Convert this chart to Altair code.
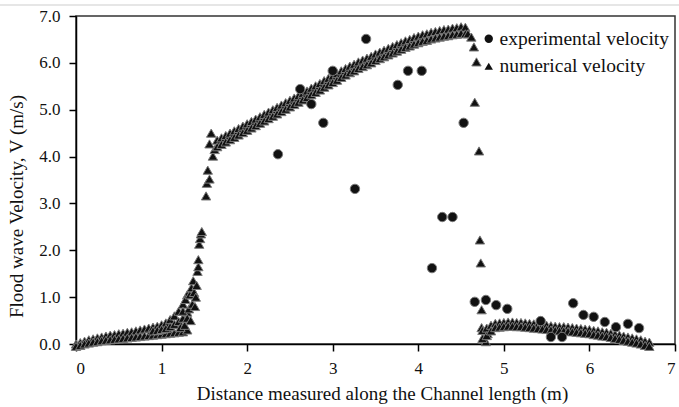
import altair as alt
import pandas as pd

# ---------------- data ----------------
SERIES = ["experimental velocity", "numerical velocity"]

# experimental velocity (circles)
exp_x = [2.36, 2.62, 2.75, 2.89, 3.00, 3.26, 3.39, 3.76, 3.88, 4.04, 4.16, 4.28,
         4.40, 4.53, 4.66, 4.79, 4.91, 5.04, 5.43, 5.55, 5.68, 5.81, 5.93, 6.05,
         6.18, 6.31, 6.45, 6.58]
exp_y = [4.05, 5.44, 5.12, 4.72, 5.83, 3.31, 6.51, 5.53, 5.83, 5.83, 1.62, 2.71,
         2.71, 4.72, 0.90, 0.94, 0.83, 0.75, 0.49, 0.15, 0.15, 0.87, 0.62, 0.58,
         0.47, 0.36, 0.43, 0.34]

# numerical velocity (triangles) - slow rise near the gate
rise_x = [0.00, 0.05, 0.10, 0.15, 0.20, 0.25, 0.30, 0.35, 0.40, 0.45, 0.50, 0.55,
          0.60, 0.65, 0.70, 0.75, 0.80, 0.85, 0.90, 0.95, 1.00, 1.05, 1.10, 1.15,
          1.20, 1.25, 1.30]
rise_upper = [0.00, 0.03, 0.06, 0.09, 0.11, 0.13, 0.15, 0.17, 0.19, 0.20, 0.22, 0.23,
              0.25, 0.26, 0.28, 0.30, 0.32, 0.34, 0.36, 0.38, 0.41, 0.45, 0.52, 0.60,
              0.70, 0.85, 1.05]
rise_lower = [-0.05, -0.03, 0.00, 0.02, 0.04, 0.05, 0.07, 0.08, 0.09, 0.10, 0.11, 0.12,
              0.13, 0.14, 0.15, 0.16, 0.17, 0.18, 0.19, 0.20, 0.21, 0.22, 0.23, 0.24,
              0.25, 0.26, 0.30]
mid_x = [0.90, 0.95, 1.00, 1.05, 1.10, 1.15, 1.20, 1.25, 1.30]
mid_y = [0.28, 0.29, 0.31, 0.33, 0.37, 0.42, 0.48, 0.55, 0.68]

# steep front
steep_x = [1.22, 1.25, 1.27, 1.28, 1.30, 1.32, 1.33, 1.34, 1.35, 1.36, 1.37, 1.38,
           1.39, 1.40, 1.41, 1.42, 1.43, 1.43, 1.44, 1.45, 1.46, 1.47, 1.52, 1.53,
           1.54, 1.56, 1.56, 1.58, 1.60, 1.62]
steep_y = [0.35, 0.70, 0.40, 0.95, 0.55, 0.75, 1.05, 0.50, 1.20, 0.85, 1.35, 1.10,
           0.80, 1.00, 1.25, 1.55, 1.65, 1.80, 2.13, 2.25, 2.35, 2.40, 3.16, 3.43,
           3.71, 3.52, 4.27, 4.50, 4.01, 4.15]

# main band
band_x = [1.65, 1.70, 1.75, 1.80, 1.85, 1.90, 1.95, 2.00, 2.05, 2.10, 2.15, 2.20,
          2.25, 2.30, 2.35, 2.40, 2.45, 2.50, 2.55, 2.60, 2.65, 2.70, 2.75, 2.80,
          2.85, 2.90, 2.95, 3.00, 3.05, 3.10, 3.15, 3.20, 3.25, 3.30, 3.35, 3.40,
          3.45, 3.50, 3.55, 3.60, 3.65, 3.70, 3.75, 3.80, 3.85, 3.90, 3.95, 4.00,
          4.05, 4.10, 4.15, 4.20, 4.25, 4.30, 4.35, 4.40, 4.45, 4.50, 4.55]
band_upper = [4.35, 4.40, 4.45, 4.50, 4.55, 4.60, 4.65, 4.70, 4.75, 4.80, 4.85, 4.90,
              4.95, 5.00, 5.05, 5.10, 5.15, 5.20, 5.25, 5.30, 5.35, 5.40, 5.46, 5.51,
              5.56, 5.62, 5.67, 5.72, 5.77, 5.83, 5.88, 5.93, 5.97, 6.02, 6.06, 6.10,
              6.14, 6.19, 6.23, 6.27, 6.31, 6.35, 6.39, 6.43, 6.47, 6.50, 6.54, 6.57,
              6.60, 6.62, 6.65, 6.67, 6.69, 6.71, 6.72, 6.74, 6.75, 6.77, 6.76]
band_lower = [4.21, 4.26, 4.31, 4.36, 4.41, 4.46, 4.51, 4.56, 4.61, 4.66, 4.71, 4.76,
              4.81, 4.86, 4.91, 4.96, 5.01, 5.06, 5.11, 5.16, 5.21, 5.26, 5.32, 5.37,
              5.42, 5.48, 5.53, 5.58, 5.63, 5.69, 5.74, 5.79, 5.83, 5.88, 5.92, 5.96,
              6.00, 6.05, 6.09, 6.13, 6.17, 6.21, 6.25, 6.29, 6.33, 6.36, 6.40, 6.43,
              6.46, 6.48, 6.51, 6.53, 6.55, 6.57, 6.58, 6.60, 6.61, 6.63, 6.62]

# sudden drop
drop_x = [4.58, 4.62, 4.65, 4.68, 4.66, 4.71, 4.72, 4.73, 4.74, 4.74, 4.76, 4.79, 4.81]
drop_y = [6.62, 6.55, 6.34, 6.02, 5.16, 4.12, 2.22, 1.73, 0.73, 0.35, 0.10, 0.05, 0.22]

# tail
tail_x = [4.75, 4.80, 4.85, 4.90, 4.95, 5.00, 5.05, 5.10, 5.15, 5.20, 5.25, 5.30,
          5.35, 5.40, 5.45, 5.50, 5.55, 5.60, 5.65, 5.70, 5.75, 5.80, 5.85, 5.90,
          5.95, 6.00, 6.05, 6.10, 6.15, 6.20, 6.25, 6.30, 6.35, 6.40, 6.45, 6.50,
          6.55, 6.60, 6.65, 6.70]
tail_upper = [0.29, 0.34, 0.40, 0.44, 0.45, 0.46, 0.47, 0.47, 0.46, 0.46, 0.45, 0.44,
              0.43, 0.42, 0.41, 0.40, 0.39, 0.38, 0.37, 0.37, 0.36, 0.35, 0.34, 0.33,
              0.32, 0.31, 0.29, 0.28, 0.26, 0.25, 0.23, 0.21, 0.19, 0.17, 0.15, 0.13,
              0.11, 0.09, 0.06, 0.04]
tail_lower = [0.12, 0.18, 0.28, 0.35, 0.36, 0.37, 0.38, 0.38, 0.37, 0.37, 0.36, 0.35,
              0.34, 0.33, 0.32, 0.31, 0.30, 0.29, 0.28, 0.28, 0.27, 0.26, 0.25, 0.24,
              0.23, 0.22, 0.20, 0.19, 0.17, 0.16, 0.14, 0.12, 0.10, 0.08, 0.06, 0.04,
              0.02, 0.00, -0.03, -0.05]

# ---------------- table ----------------
rows = []
num_parts = [(rise_x, rise_upper), (rise_x, rise_lower), (mid_x, mid_y),
             (steep_x, steep_y), (band_x, band_upper), (band_x, band_lower),
             (drop_x, drop_y), (tail_x, tail_upper), (tail_x, tail_lower)]
for xs, ys in num_parts:
    for xv, yv in zip(xs, ys):
        rows.append({"x": xv, "y": yv, "series": SERIES[1]})
for xv, yv in zip(exp_x, exp_y):
    rows.append({"x": xv, "y": yv, "series": SERIES[0]})
df = pd.DataFrame(rows)

FONT = "Liberation Serif"

points = alt.Chart(df).mark_point(
    filled=True, opacity=1, color="#111111", stroke="#7a7a7a", strokeWidth=1.0,
    size=88,
).encode(
    x=alt.X("x:Q",
            scale=alt.Scale(domain=[0, 7], nice=False, zero=False),
            axis=alt.Axis(values=[0, 1, 2, 3, 4, 5, 6, 7], format="d",
                          title="Distance measured along the Channel length (m)",
                          titleX=306, titleY=40)),
    y=alt.Y("y:Q",
            scale=alt.Scale(domain=[0, 7], nice=False, zero=False),
            axis=alt.Axis(values=[0, 1, 2, 3, 4, 5, 6, 7], format=".1f",
                          title="Flood wave Velocity, V (m/s)",
                          titleX=-50, titleY=190)),
    shape=alt.Shape("series:N",
                    scale=alt.Scale(domain=SERIES, range=["circle", "triangle-up"]),
                    legend=alt.Legend(title=None, orient="none", legendX=403, legendY=13,
                                      labelFont=FONT, labelFontSize=19.5, labelColor="#111",
                                      labelLimit=0,
                                      symbolSize=70, symbolFillColor="#111111",
                                      symbolStrokeColor="#7a7a7a", symbolStrokeWidth=1.0,
                                      rowPadding=6.5, labelOffset=1, padding=0)),
    order=alt.Order("series:N", sort="descending"),
)

top_line = alt.Chart(pd.DataFrame({"v": [0]})).mark_rule(
    color="#e6e6e6", strokeWidth=2
).encode(y=alt.value(-11), x=alt.value(-76), x2=alt.value(603))

chart = alt.layer(top_line, points).properties(
    width=599, height=328,
    autosize=alt.AutoSizeParams(type="none"),
    padding={"left": 76, "top": 16, "right": 4, "bottom": 63},
).configure(
    font=FONT,
).configure_view(
    stroke="#333333", strokeWidth=1.5,
).configure_axis(
    grid=False, domainColor="#000000", domainWidth=1.5,
    tickColor="#000000", tickWidth=1.5, tickSize=7,
    labelFont=FONT, labelFontSize=17, labelColor="#111111", labelPadding=9,
    titleFont=FONT, titleFontSize=19, titleFontWeight="normal", titleColor="#111111",
)

chart.save("out.html", embed_options={"renderer": "svg", "actions": False})
